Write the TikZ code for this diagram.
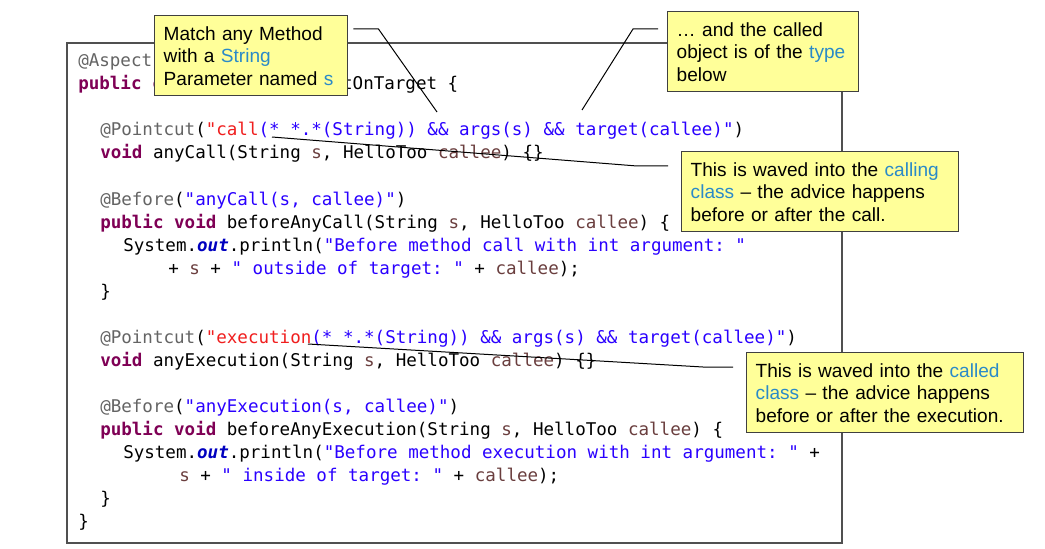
\documentclass[tikz,border=0pt]{standalone}
\usepackage{fontspec}
\setmainfont{Liberation Sans}
\newfontfamily\codefont{DejaVu Sans Mono}
\usetikzlibrary{calc}

\definecolor{kwcol}{HTML}{7F0055}
\definecolor{ancol}{HTML}{646464}
\definecolor{stcol}{HTML}{2A00FF}
\definecolor{pccol}{HTML}{F01E1E}
\definecolor{vrcol}{HTML}{6A3E3E}
\definecolor{fdcol}{HTML}{0000C0}
\definecolor{hlcol}{HTML}{2A8AC8}
\definecolor{notefill}{HTML}{FFFF99}
\definecolor{notedraw}{HTML}{404040}
\definecolor{framecol}{HTML}{505050}

\newcommand\cKw[1]{\textcolor{kwcol}{\bfseries #1}}
\newcommand\cAn[1]{\textcolor{ancol}{#1}}
\newcommand\cSt[1]{\textcolor{stcol}{#1}}
\newcommand\cPc[1]{\textcolor{pccol}{#1}}
\newcommand\cVr[1]{\textcolor{vrcol}{#1}}
\newcommand\cFd[1]{\textcolor{fdcol}{\bfseries\itshape #1}}
\newcommand\cHl[1]{\textcolor{hlcol}{#1}}

\begin{document}
\begin{tikzpicture}[x=0.75pt, y=-0.75pt,
  codeline/.style={anchor=base west, inner sep=0, font=\codefont\fontsize{13.15}{16}\selectfont\frenchspacing},
  note/.style={draw=notedraw, line width=1.1pt, fill=notefill, anchor=north west, align=left,
    inner xsep=6.75pt, inner ysep=0pt, minimum height=60pt, font=\fontsize{14.3}{16.9}\selectfont},
  lead/.style={black, line width=0.75pt}]
\useasboundingbox[fill=white] (0,0) rectangle (1045,549);

% the aspect code
\draw[framecol, line width=0.9pt] (67,43) rectangle (842,543);
\foreach \x/\k/\t in {
  78/0/{\cAn{@Aspect}},
  78/1/{\cKw{public} \cKw{class} CallingAspectOnTarget \{},
  100/3/{\cAn{@Pointcut}(\cPc{"call}\cSt{(* *.*(String)) \&\& args(s) \&\& target(callee)"})},
  100/4/{\cKw{void} anyCall(String \cVr{s}, HelloToo \cVr{callee}) \{\}},
  100/6/{\cAn{@Before}(\cSt{"anyCall(s, callee)"})},
  100/7/{\cKw{public} \cKw{void} beforeAnyCall(String \cVr{s}, HelloToo \cVr{callee}) \{},
  123/8/{System.\cFd{out}.println(\cSt{"Before method call with int argument: "}},
  168/9/{+ \cVr{s} + \cSt{" outside of target: "} + \cVr{callee});},
  100/10/{\}},
  100/12/{\cAn{@Pointcut}(\cPc{"execution}\cSt{(* *.*(String)) \&\& args(s) \&\& target(callee)"})},
  100/13/{\cKw{void} anyExecution(String \cVr{s}, HelloToo \cVr{callee}) \{\}},
  100/15/{\cAn{@Before}(\cSt{"anyExecution(s, callee)"})},
  100/16/{\cKw{public} \cKw{void} beforeAnyExecution(String \cVr{s}, HelloToo \cVr{callee}) \{},
  123/17/{System.\cFd{out}.println(\cSt{"Before method execution with int argument: "} +},
  179/18/{\cVr{s} + \cSt{" inside of target: "} + \cVr{callee});},
  100/19/{\}},
  78/20/{\}}
} {
  \node[codeline] (l\k) at (\x,67+23*\k) {\t};
}

% callouts
\node[note, text width=131.25pt] (match) at (154,15) {Match any Method\\ with a \cHl{String}\\ Parameter named \cHl{s}};
\node[note, text width=129.75pt] (typed) at (667,11) {… and the called\\ object is of the \cHl{type}\\ below};
\node[note, text width=194.25pt] (calling) at (681,151) {This is waved into the \cHl{calling}\\ \cHl{class} – the advice happens\\ before or after the call.};
\node[note, text width=194.25pt] (called) at (746,352) {This is waved into the \cHl{called}\\ \cHl{class} – the advice happens\\ before or after the execution.};

% leader lines
\coordinate (argsTip) at (437,112);
\coordinate (typeTip) at (582,110);
\coordinate (callTip) at (272,137);
\coordinate (execTip) at (308,344);
\draw[lead] ([xshift=3.75pt, yshift=-10.5pt]match.north east) --++(25,0) -- (argsTip);
\draw[lead] ([xshift=-6.75pt, yshift=-13.5pt]typed.north west) --++(-25,0) -- (typeTip);
\draw[lead] ([xshift=-9.75pt, yshift=-11.25pt]calling.north west) --++(-31,0) -- (callTip);
\draw[lead] ([xshift=-9.75pt, yshift=-11.25pt]called.north west) --++(-30,0) -- (execTip);
\end{tikzpicture}
\end{document}
